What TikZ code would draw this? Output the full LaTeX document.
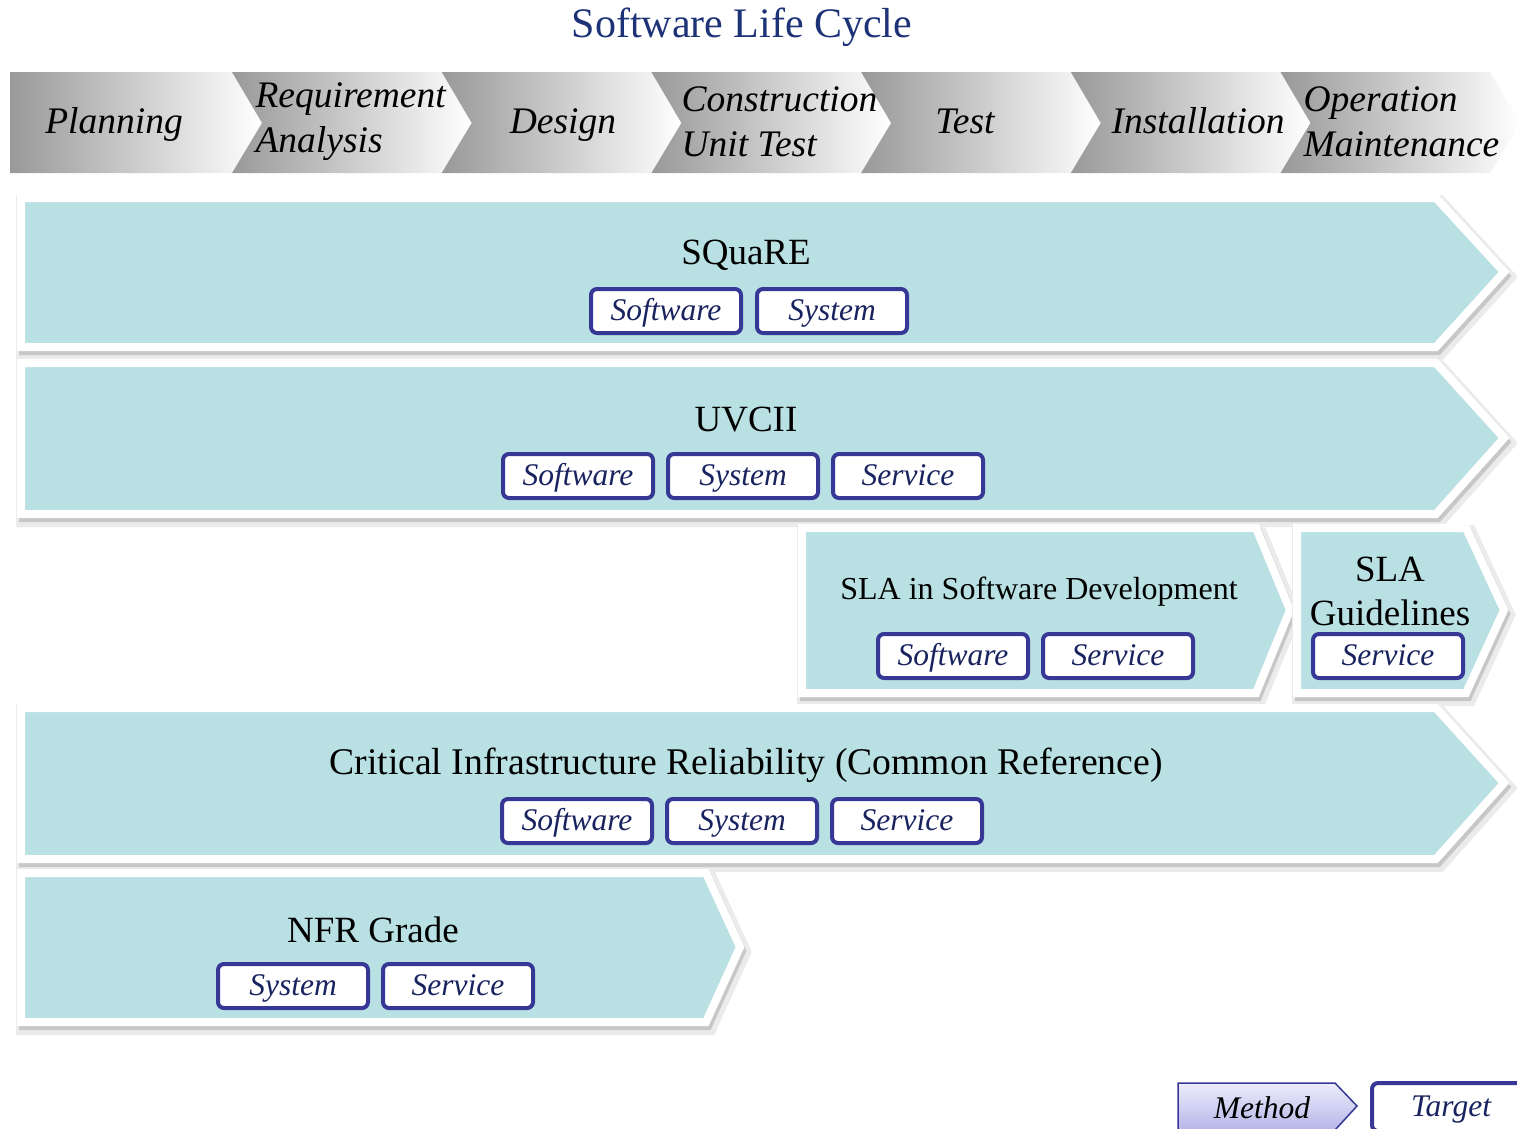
\documentclass[tikz,border=0pt]{standalone}
\usepackage{fontspec}
\setmainfont{Liberation Serif}

\definecolor{lanefill}{RGB}{185,224,227}
\definecolor{tgtline}{RGB}{55,55,150}
\definecolor{tgttext}{RGB}{25,35,95}
\definecolor{titleblue}{RGB}{30,50,120}
\definecolor{methodtop}{RGB}{236,236,252}
\definecolor{methodbot}{RGB}{182,182,232}

\tikzset{
  phase/.style={left color=black!40, right color=white},
  phasetext/.style={font=\fontsize{37.5}{45}\selectfont\itshape, align=left},
  phaseone/.style={phasetext, text height=29, text depth=8},
  lane/.style={fill=lanefill, draw=white, line width=8, line join=miter,
    preaction={draw=black!8, fill=black!8, line width=16,
      transform canvas={xshift=3pt, yshift=-5pt}},
    preaction={draw=black!22, fill=black!22, line width=8,
      transform canvas={xshift=2pt, yshift=-4pt}}},
  lanetext/.style={font=\fontsize{37}{44}\selectfont, align=center},
  target/.style={draw=tgtline, fill=white, line width=4, rounded corners=6,
    minimum width=150, minimum height=44, inner sep=0pt, text=tgttext,
    text height=23, text depth=5, font=\fontsize{31.5}{31.5}\selectfont\itshape},
}

\begin{document}
\begin{tikzpicture}[x=1pt, y=-1pt]
\useasboundingbox (0,0) rectangle (1517,1128);
\clip (0,0) rectangle (1517,1128);

\node (title) [font=\fontsize{42}{42}\selectfont, text=titleblue] at (742,27) {Software Life Cycle};

% life cycle phases
\shade [phase] (10,72) -- (232,72) -- (262,123) -- (232,173) -- (10,173) -- cycle;
\foreach \i in {1,...,6}
  \shade [phase] ({22.3+209.7*\i},72) -- ({232+209.7*\i},72) -- ({262+209.7*\i},123)
    -- ({232+209.7*\i},173) -- ({22.3+209.7*\i},173) -- ({52.3+209.7*\i},123) -- cycle;

\node (plan) [phaseone] at (114,123) {Planning};
\node (req) [phasetext, anchor=west] at (252,122) {Requirement\\Analysis};
\node (design) [phaseone] at (563,123) {Design};
\node (constr) [phasetext, anchor=west] at (678,122) {Construction\\Unit Test};
\node (test) [phaseone] at (965,123) {Test};
\node (install) [phaseone] at (1198,123) {Installation};
\node (oper) [phasetext, anchor=west] at (1300,122) {Operation\\Maintenance};

% method lanes
\draw [lane] (21,198) -- (1436,198) -- (1504,272) -- (1436,347) -- (21,347) -- cycle;
\draw [lane] (21,363) -- (1436,363) -- (1504,438) -- (1436,514) -- (21,514) -- cycle;
\draw [lane] (802,528) -- (1256,528) -- (1290,610) -- (1256,693) -- (802,693) -- cycle;
\draw [lane] (1297,528) -- (1466,528) -- (1504,610) -- (1466,693) -- (1297,693) -- cycle;
\draw [lane] (21,708) -- (1436,708) -- (1504,783) -- (1436,859) -- (21,859) -- cycle;
\draw [lane] (21,873) -- (706,873) -- (740,947) -- (706,1022) -- (21,1022) -- cycle;

\node (square) [lanetext] at (746,255) {SQuaRE};
\node (sq1) [target] at (666,311) {Software};
\node (sq2) [target] at (832,311) {System};

\node (uvcii) [lanetext] at (746,420) {UVCII};
\node (uv1) [target] at (578,476) {Software};
\node (uv2) [target] at (743,476) {System};
\node (uv3) [target] at (908,476) {Service};

\node (slasw) [lanetext, font=\fontsize{32}{36}\selectfont] at (1039,592) {SLA in Software Development};
\node (sd1) [target] at (953,656) {Software};
\node (sd2) [target] at (1118,656) {Service};

\node (slagl) [lanetext] at (1390,591) {SLA\\Guidelines};
\node (gl1) [target] at (1388,656) {Service};

\node (cir) [lanetext, font=\fontsize{37.7}{44}\selectfont] at (746,765) {Critical Infrastructure Reliability (Common Reference)};
\node (ci1) [target] at (577,821) {Software};
\node (ci2) [target] at (742,821) {System};
\node (ci3) [target] at (907,821) {Service};

\node (nfr) [lanetext] at (373,930) {NFR Grade};
\node (nf1) [target] at (293,986) {System};
\node (nf2) [target] at (458,986) {Service};

% legend
\shade [top color=methodtop, bottom color=methodbot, draw=tgtline, line width=1.5]
  (1178,1083) -- (1335,1083) -- (1357,1106) -- (1335,1130) -- (1178,1130) -- cycle;
\node (method) [font=\fontsize{31.5}{31.5}\selectfont\itshape] at (1262,1108) {Method};
\node (target) [target, minimum width=158, minimum height=48] at (1451,1107) {Target};
\end{tikzpicture}
\end{document}
